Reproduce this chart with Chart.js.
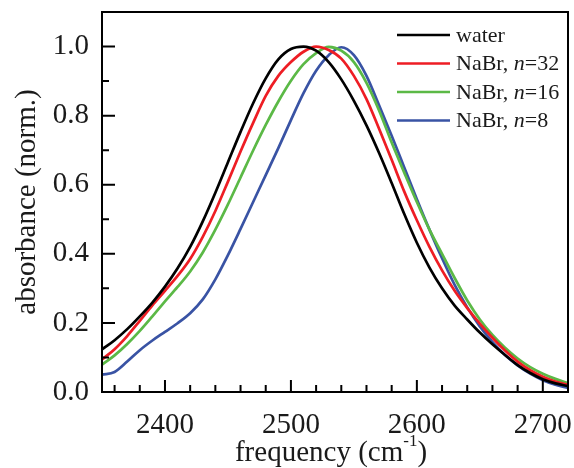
<!DOCTYPE html>
<html lang="en">
<head>
    <meta charset="UTF-8">
    <title>OD stretch absorbance</title>
    <style>
        body { margin: 0; padding: 0; background: white; }
        .chart-container { width: 574px; height: 468px; }
    </style>
    <script src="https://cdn.jsdelivr.net/npm/chart.js"></script>
</head>
<body>
    <div class="chart-container">
        <canvas id="absChart"></canvas>
    </div>

    <script>
    // frequency grid (cm-1)
    const freq = [2350, 2360, 2370, 2380, 2390, 2400, 2410, 2420, 2430, 2440,
                  2450, 2460, 2470, 2480, 2490, 2500, 2510, 2520, 2530, 2540,
                  2550, 2560, 2570, 2580, 2590, 2600, 2610, 2620, 2630, 2640,
                  2650, 2660, 2670, 2680, 2690, 2700, 2710, 2720];

    // normalized absorbance
    const water = [0.123, 0.150, 0.182, 0.219, 0.259, 0.305, 0.358, 0.420, 0.494, 0.577,
                   0.665, 0.753, 0.836, 0.908, 0.963, 0.993, 1.000, 0.988, 0.955, 0.905,
                   0.843, 0.772, 0.692, 0.605, 0.515, 0.432, 0.360, 0.300, 0.250, 0.210,
                   0.172, 0.138, 0.107, 0.078, 0.055, 0.037, 0.025, 0.017];
    const nabr32 = [0.094, 0.124, 0.162, 0.206, 0.251, 0.293, 0.336, 0.385, 0.449, 0.524,
                    0.609, 0.696, 0.779, 0.857, 0.915, 0.955, 0.985, 1.000, 0.990, 0.965,
                    0.915, 0.848, 0.762, 0.672, 0.580, 0.497, 0.420, 0.352, 0.293, 0.243,
                    0.198, 0.157, 0.120, 0.088, 0.063, 0.044, 0.030, 0.021];
    const nabr16 = [0.079, 0.106, 0.139, 0.177, 0.219, 0.262, 0.304, 0.349, 0.404, 0.470,
                    0.543, 0.621, 0.699, 0.773, 0.841, 0.901, 0.949, 0.981, 0.999, 0.988,
                    0.955, 0.895, 0.815, 0.722, 0.635, 0.550, 0.470, 0.400, 0.330, 0.265,
                    0.210, 0.165, 0.128, 0.097, 0.072, 0.053, 0.038, 0.026];
    const nabr8 = [0.050, 0.058, 0.088, 0.121, 0.149, 0.174, 0.199, 0.228, 0.268, 0.326,
                   0.396, 0.472, 0.550, 0.628, 0.706, 0.787, 0.865, 0.930, 0.975, 0.998,
                   0.975, 0.915, 0.830, 0.742, 0.650, 0.558, 0.470, 0.387, 0.310, 0.245,
                   0.190, 0.145, 0.107, 0.077, 0.053, 0.034, 0.021, 0.012];

    const seriesLabels = ["water", "NaBr, n=32", "NaBr, n=16", "NaBr, n=8"];
    const seriesColors = ["#000000", "#ee1d24", "#5bb946", "#3953a4"];

    // axis ticks
    const xMajorTicks = [2400, 2500, 2600, 2700];
    const xMinorTicks = [2360, 2380, 2420, 2440, 2460, 2480, 2520, 2540, 2560, 2580,
                         2620, 2640, 2660, 2680, 2720];
    const yMajorTicks = [0.0, 0.2, 0.4, 0.6, 0.8, 1.0];
    const yMinorTicks = [0.1, 0.3, 0.5, 0.7, 0.9];

    const serif = "'Liberation Serif', 'Times New Roman', serif";
    const textColor = "#1a1a1a";

    function pairs(ys) {
        return freq.map((f, i) => ({ x: f, y: ys[i] }));
    }

    const allSeries = [water, nabr32, nabr16, nabr8];

    // no automatic label padding, the plot box is fixed
    function noPad(scale) {
        scale.paddingTop = 0;
        scale.paddingBottom = 0;
        scale.paddingLeft = 0;
        scale.paddingRight = 0;
    }

    // frame, inward ticks, legend and x title
    const decorations = {
        id: "decorations",
        afterDraw(chart) {
            const ctx = chart.ctx;
            const area = chart.chartArea;
            const xs = chart.scales.x;
            const ys = chart.scales.y;
            ctx.save();

            // ticks
            ctx.strokeStyle = "#000";
            ctx.lineWidth = 2;
            ctx.beginPath();
            xMajorTicks.forEach(v => {
                const px = xs.getPixelForValue(v);
                ctx.moveTo(px, area.bottom); ctx.lineTo(px, area.bottom - 12);
            });
            xMinorTicks.forEach(v => {
                const px = xs.getPixelForValue(v);
                ctx.moveTo(px, area.bottom); ctx.lineTo(px, area.bottom - 7);
            });
            yMajorTicks.forEach(v => {
                const py = ys.getPixelForValue(v);
                ctx.moveTo(area.left, py); ctx.lineTo(area.left + 13, py);
            });
            yMinorTicks.forEach(v => {
                const py = ys.getPixelForValue(v);
                ctx.moveTo(area.left, py); ctx.lineTo(area.left + 7, py);
            });
            ctx.stroke();

            // frame
            ctx.lineWidth = 2;
            ctx.strokeRect(area.left, area.top, area.right - area.left, area.bottom - area.top);

            // legend
            const lx = area.right - 171;
            let ly = area.top + 23;
            ctx.textBaseline = "middle";
            ctx.textAlign = "left";
            chart.data.datasets.forEach(ds => {
                ctx.strokeStyle = ds.borderColor;
                ctx.lineWidth = 2.5;
                ctx.beginPath();
                ctx.moveTo(lx, ly); ctx.lineTo(lx + 53, ly);
                ctx.stroke();
                ctx.fillStyle = textColor;
                let tx = lx + 59;
                const m = ds.label.match(/^(.*)(n)(=.*)$/);
                const parts = m ? [[m[1], ""], [m[2], "italic "], [m[3], ""]] : [[ds.label, ""]];
                parts.forEach(([t, style]) => {
                    ctx.font = style + "22px " + serif;
                    ctx.fillText(t, tx, ly + 1);
                    tx += ctx.measureText(t).width;
                });
                ly += 28.5;
            });

            // x axis title with superscript
            const main1 = "frequency (cm", sup = "-1", main2 = ")";
            ctx.font = "29px " + serif;
            const w1 = ctx.measureText(main1).width;
            const w3 = ctx.measureText(main2).width;
            ctx.font = "17px " + serif;
            const w2 = ctx.measureText(sup).width;
            let tx = (area.left + area.right) / 2 - (w1 + w2 + w3) / 2 - 4;
            const ty = 453;
            ctx.fillStyle = textColor;
            ctx.font = "29px " + serif;
            ctx.fillText(main1, tx, ty);
            tx += w1;
            ctx.font = "17px " + serif;
            ctx.fillText(sup, tx, ty - 11);
            tx += w2;
            ctx.font = "29px " + serif;
            ctx.fillText(main2, tx, ty);

            ctx.restore();
        }
    };

    new Chart(document.getElementById("absChart"), {
        type: "line",
        data: {
            datasets: allSeries.map((s, i) => ({
                label: seriesLabels[i],
                data: pairs(s),
                borderColor: seriesColors[i],
                borderWidth: 2.7,
                pointRadius: 0,
                fill: false,
                cubicInterpolationMode: "monotone"
            }))
        },
        options: {
            responsive: true,
            maintainAspectRatio: false,
            animation: false,
            layout: { padding: { top: 12, right: 6, left: 0, bottom: 0 } },
            plugins: {
                legend: { display: false },
                tooltip: { enabled: false }
            },
            scales: {
                x: {
                    type: "linear",
                    min: 2350,
                    max: 2720,
                    afterBuildTicks: scale => { scale.ticks = xMajorTicks.map(v => ({ value: v })); },
                    afterFit: scale => { scale.height = 76; noPad(scale); },
                    grid: { display: false },
                    border: { display: false },
                    ticks: {
                        padding: 8,
                        maxRotation: 0,
                        color: textColor,
                        font: { family: serif, size: 29 },
                        callback: v => v
                    }
                },
                y: {
                    min: 0,
                    max: 1.1,
                    afterBuildTicks: scale => { scale.ticks = yMajorTicks.map(v => ({ value: v })); },
                    afterFit: scale => { scale.width = 102; noPad(scale); },
                    grid: { display: false },
                    border: { display: false },
                    title: {
                        display: true,
                        text: "absorbance (norm.)",
                        color: textColor,
                        font: { family: serif, size: 29 },
                        padding: { top: 10, bottom: 0 }
                    },
                    ticks: {
                        padding: 5,
                        color: textColor,
                        font: { family: serif, size: 29 },
                        callback: v => v.toFixed(1)
                    }
                }
            }
        },
        plugins: [decorations]
    });
    </script>
</body>
</html>
